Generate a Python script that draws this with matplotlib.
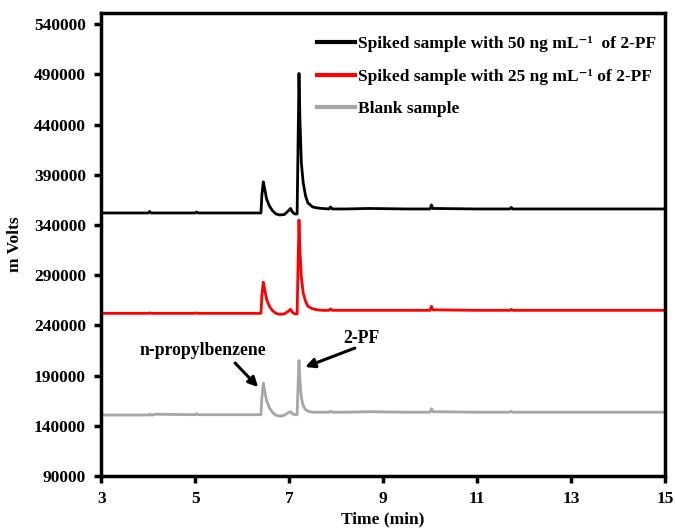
import matplotlib
matplotlib.use("Agg")
import matplotlib.pyplot as plt

plt.rcParams['font.family'] = ['Liberation Serif', 'DejaVu Serif']
plt.rcParams['font.weight'] = 'bold'

time_min = [3.0, 3.6, 4.0, 4.03, 4.06, 4.1, 4.13, 5.0, 5.03, 5.06, 6.0, 6.40, 6.42, 6.45, 6.48,
            6.52, 6.58, 6.65, 6.72, 6.8, 6.9, 6.98, 7.03, 7.07, 7.12, 7.17, 7.19, 7.21, 7.23,
            7.26, 7.3, 7.35, 7.4, 7.5, 7.6, 7.7, 7.85, 7.88, 7.92, 8.2, 8.7, 9.5, 10.0, 10.03,
            10.06, 11.0, 11.7, 11.73, 11.76, 13.0, 15.0]

spiked_50 = [352000, 352000, 352000, 353500, 352000, 352000, 352000, 352000, 353000, 352000, 352000,
             352000, 370000, 383000, 376000, 366000, 359000, 354000, 351000, 350000, 350500,
             354000, 356500, 353000, 351000, 351000, 420000, 491000, 445000, 402000, 382000,
             369000, 362000, 358000, 357000, 356500, 356000, 358000, 356000, 356000, 356500,
             356000, 356000, 360000, 356500, 356000, 356000, 357500, 356000, 356000, 356000]

spiked_25 = [252000, 252000, 252000, 252500, 252000, 252000, 252000, 252000, 252500, 252000, 252000,
             252000, 270000, 283000, 276000, 266000, 259000, 254500, 252000, 251000, 251500,
             254000, 256000, 253000, 251500, 251500, 300000, 345000, 315000, 288000, 272000,
             264000, 259000, 256500, 255500, 255000, 255000, 256500, 255000, 255000, 255000,
             255000, 255000, 259000, 255500, 255000, 255000, 256000, 255000, 255000, 255000]

blank = [150700, 150700, 150700, 151500, 150700, 150700, 151500, 151000, 152000, 151000, 151000,
         151000, 168000, 182500, 175000, 165000, 158000, 153000, 150500, 149500, 150500,
         153000, 154000, 152000, 151000, 151000, 180000, 205000, 185000, 168000, 160000,
         156000, 154500, 153500, 153500, 153500, 153500, 154500, 153500, 153500, 154000,
         153500, 153500, 157000, 154000, 153500, 153500, 154500, 153500, 153500, 153500]

labels = ["Spiked sample with 50 ng mL\u207b\u00b9  of 2-PF",
          "Spiked sample with 25 ng mL\u207b\u00b9 of 2-PF",
          "Blank sample"]
colors = ["#000000", "#ff0000", "#a6a6a6"]

x_ticks = [3, 5, 7, 9, 11, 13, 15]
y_ticks = [90000, 140000, 190000, 240000, 290000, 340000, 390000, 440000, 490000, 540000]

FS = 12.5
fams = ['Liberation Serif', 'DejaVu Serif']

fig = plt.figure(figsize=(6.75, 5.3), dpi=100)
ax = fig.add_axes([0.150, 0.102, 0.835, 0.873])

for ys, c, lab in zip([spiked_50, spiked_25, blank], colors, labels):
    ax.plot(time_min, ys, color=c, lw=2.0, label=lab, solid_joinstyle='round')

ax.set_xlim(3, 15)
ax.set_ylim(90000, 551000)
ax.set_xticks(x_ticks)
ax.set_yticks(y_ticks)
ax.set_xticklabels([str(v) for v in x_ticks], fontsize=FS, fontweight='bold')
ax.set_yticklabels([str(v) for v in y_ticks], fontsize=FS, fontweight='bold')
ax.tick_params(axis='both', direction='out', length=5, width=2.5, pad=6)
ax.tick_params(axis='x', pad=6)
for sp in ax.spines.values():
    sp.set_linewidth(2.5)

ax.set_xlabel("Time (min)", fontsize=FS, fontweight='bold', labelpad=3)
ax.set_ylabel("m Volts", fontsize=FS, fontweight='bold', labelpad=8)

leg = ax.legend(loc='upper right', bbox_to_anchor=(1.012, 0.985), frameon=False,
                prop={'family': fams, 'weight': 'bold', 'size': FS},
                handlelength=2.2, handletextpad=0.15, labelspacing=0.95)
for h in leg.get_lines():
    h.set_linewidth(3)

ax.text(5.17, 215400, "n-propylbenzene", ha='center', va='center', fontsize=12.7, fontweight='bold')
ax.annotate("", xy=(6.34, 178500), xytext=(5.85, 202500),
            arrowprops=dict(arrowstyle='-|>', color='black', lw=2.2, shrinkA=0, shrinkB=0,
                            mutation_scale=14))
ax.text(8.53, 227400, "2-PF", ha='center', va='center', fontsize=12.7, fontweight='bold')
ax.annotate("", xy=(7.34, 198500), xytext=(8.40, 217400),
            arrowprops=dict(arrowstyle='-|>', color='black', lw=2.2, shrinkA=0, shrinkB=0,
                            mutation_scale=14))

fig.savefig("out.png", dpi=100)
